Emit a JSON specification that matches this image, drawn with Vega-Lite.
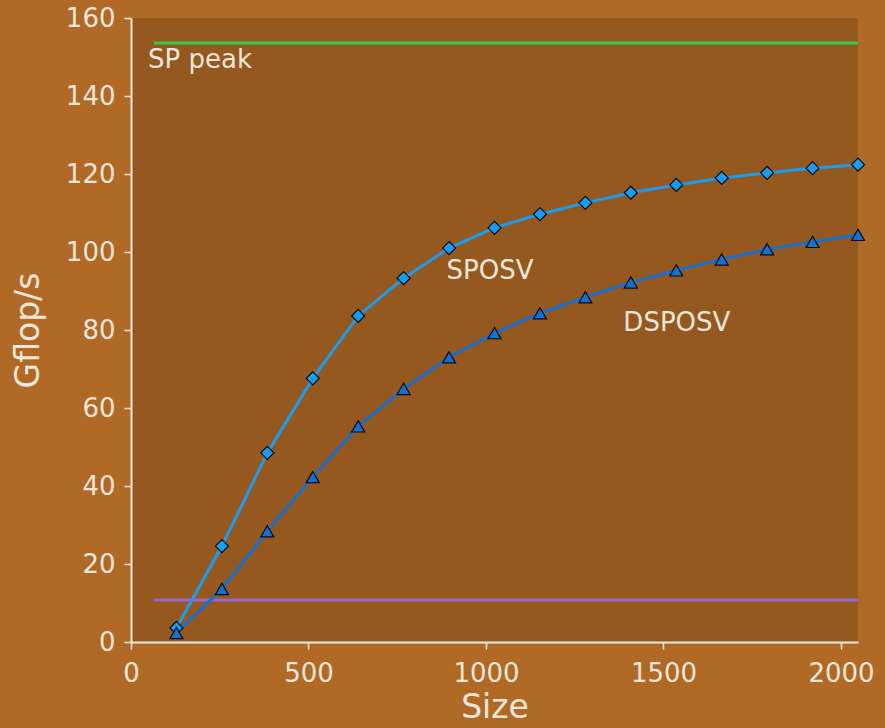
{
  "$schema": "https://vega.github.io/schema/vega-lite/v6.json",
  "autosize": {"type": "none"},
  "width": 727,
  "height": 624,
  "padding": {"left": 131, "top": 18, "right": 27, "bottom": 86},
  "background": "#b06a25",
  "view": {"fill": "#955920", "stroke": null},
  "config": {
    "font": "DejaVu Sans",
    "axis": {
      "grid": false,
      "domainColor": "#eeeae4",
      "domainWidth": 2,
      "tickColor": "#eeeae4",
      "tickWidth": 1.5,
      "tickSize": 7,
      "labelColor": "#ede6dd",
      "labelFontSize": 26,
      "labelFlush": false,
      "titleColor": "#ede6dd",
      "titleFontSize": 33,
      "titleFontWeight": "normal",
      "labelPadding": 6,
      "format": "d"
    }
  },
  "datasets": {
    "perf": [
      {"size": 128, "gflops": 3.6, "series": "SPOSV"},
      {"size": 256, "gflops": 24.6, "series": "SPOSV"},
      {"size": 384, "gflops": 48.5, "series": "SPOSV"},
      {"size": 512, "gflops": 67.6, "series": "SPOSV"},
      {"size": 640, "gflops": 83.6, "series": "SPOSV"},
      {"size": 768, "gflops": 93.3, "series": "SPOSV"},
      {"size": 896, "gflops": 101.0, "series": "SPOSV"},
      {"size": 1024, "gflops": 106.2, "series": "SPOSV"},
      {"size": 1152, "gflops": 109.7, "series": "SPOSV"},
      {"size": 1280, "gflops": 112.6, "series": "SPOSV"},
      {"size": 1408, "gflops": 115.2, "series": "SPOSV"},
      {"size": 1536, "gflops": 117.2, "series": "SPOSV"},
      {"size": 1664, "gflops": 119.0, "series": "SPOSV"},
      {"size": 1792, "gflops": 120.3, "series": "SPOSV"},
      {"size": 1920, "gflops": 121.5, "series": "SPOSV"},
      {"size": 2048, "gflops": 122.4, "series": "SPOSV"},
      {"size": 128, "gflops": 2.3, "series": "DSPOSV"},
      {"size": 256, "gflops": 13.6, "series": "DSPOSV"},
      {"size": 384, "gflops": 28.4, "series": "DSPOSV"},
      {"size": 512, "gflops": 42.3, "series": "DSPOSV"},
      {"size": 640, "gflops": 55.3, "series": "DSPOSV"},
      {"size": 768, "gflops": 64.9, "series": "DSPOSV"},
      {"size": 896, "gflops": 73.0, "series": "DSPOSV"},
      {"size": 1024, "gflops": 79.2, "series": "DSPOSV"},
      {"size": 1152, "gflops": 84.3, "series": "DSPOSV"},
      {"size": 1280, "gflops": 88.4, "series": "DSPOSV"},
      {"size": 1408, "gflops": 92.2, "series": "DSPOSV"},
      {"size": 1536, "gflops": 95.3, "series": "DSPOSV"},
      {"size": 1664, "gflops": 98.1, "series": "DSPOSV"},
      {"size": 1792, "gflops": 100.7, "series": "DSPOSV"},
      {"size": 1920, "gflops": 102.6, "series": "DSPOSV"},
      {"size": 2048, "gflops": 104.4, "series": "DSPOSV"}
    ],
    "labels": [
      {"x": 48, "y": 149.2, "label": "SP peak"},
      {"x": 889, "y": 95.1, "label": "SPOSV"},
      {"x": 1387, "y": 81.8, "label": "DSPOSV"}
    ]
  },
  "layer": [
    {
      "data": {"values": [{"x": 64, "x2": 2048, "y": 153.6}]},
      "mark": {"type": "rule", "color": "#33cc55", "strokeWidth": 3},
      "encoding": {
        "x": {"field": "x", "type": "quantitative"},
        "x2": {"field": "x2"},
        "y": {"field": "y", "type": "quantitative"}
      }
    },
    {
      "data": {"values": [{"x": 64, "x2": 2048, "y": 10.8}]},
      "mark": {"type": "rule", "color": "#9966cc", "strokeWidth": 3},
      "encoding": {
        "x": {"field": "x", "type": "quantitative"},
        "x2": {"field": "x2"},
        "y": {"field": "y", "type": "quantitative"}
      }
    },
    {
      "data": {"name": "perf"},
      "mark": {"type": "line", "strokeWidth": 3},
      "encoding": {
        "x": {"field": "size", "type": "quantitative"},
        "y": {"field": "gflops", "type": "quantitative"},
        "color": {
          "field": "series", "type": "nominal",
          "scale": {"domain": ["SPOSV", "DSPOSV"], "range": ["#1a9cf0", "#1570d2"]},
          "legend": null
        }
      }
    },
    {
      "data": {"name": "perf"},
      "mark": {"type": "point", "filled": true, "stroke": "#0a0a14", "strokeWidth": 1.2, "size": 170, "opacity": 1},
      "encoding": {
        "x": {"field": "size", "type": "quantitative"},
        "y": {"field": "gflops", "type": "quantitative"},
        "color": {
          "field": "series", "type": "nominal",
          "scale": {"domain": ["SPOSV", "DSPOSV"], "range": ["#1a9cf0", "#1570d2"]},
          "legend": null
        },
        "shape": {
          "field": "series", "type": "nominal",
          "scale": {"domain": ["SPOSV", "DSPOSV"], "range": ["diamond", "triangle-up"]},
          "legend": null
        }
      }
    },
    {
      "data": {"name": "labels"},
      "mark": {"type": "text", "align": "left", "baseline": "middle", "fontSize": 26, "color": "#ede6dd"},
      "encoding": {
        "x": {"field": "x", "type": "quantitative",
          "scale": {"domain": [0, 2048], "nice": false, "zero": true},
          "axis": {"values": [0, 500, 1000, 1500, 2000], "title": "Size", "titlePadding": 5, "labelPadding": 11}
        },
        "y": {"field": "y", "type": "quantitative",
          "scale": {"domain": [0, 160], "nice": false},
          "axis": {"values": [0, 20, 40, 60, 80, 100, 120, 140, 160], "title": "Gflop/s", "titlePadding": 20, "labelPadding": 9}
        },
        "text": {"field": "label"}
      }
    }
  ]
}
